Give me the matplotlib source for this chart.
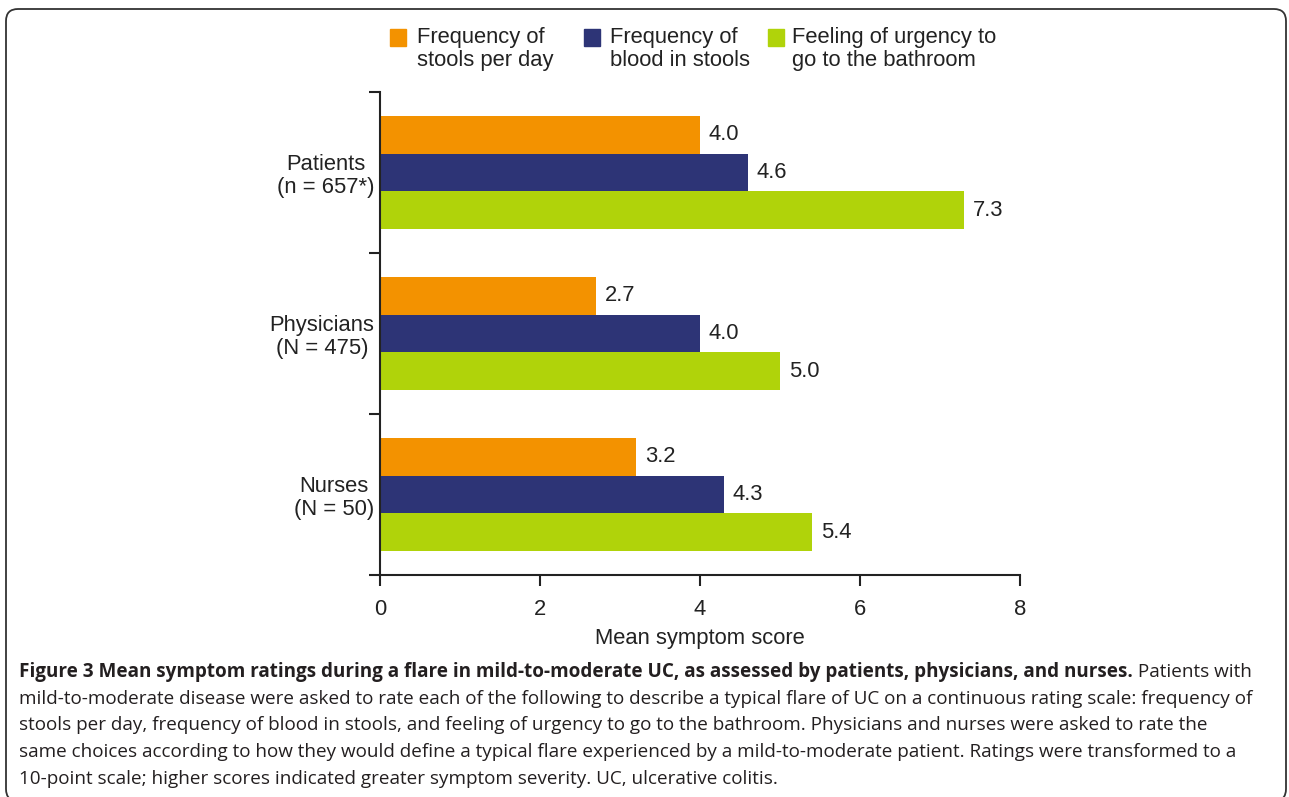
import matplotlib
matplotlib.use("Agg")
import matplotlib.pyplot as plt
import matplotlib.patches as mpatches
from matplotlib.text import Annotation
from matplotlib.transforms import IdentityTransform

# data
groups = ["Patients\n(n = 657*)", "Physicians\n(N = 475)", "Nurses\n(N = 50)"]
series = ["Frequency of\nstools per day", "Frequency of\nblood in stools", "Feeling of urgency to\ngo to the bathroom"]
stools = [4.0, 2.7, 3.2]
blood = [4.6, 4.0, 4.3]
urgency = [7.3, 5.0, 5.4]
xticks = [0, 2, 4, 6, 8]
xlabel = "Mean symptom score"

caption_bold = ("Figure 3 Mean symptom ratings during a flare in mild-to-moderate UC, "
                "as assessed by patients, physicians, and nurses.")
caption_lines = [
    " Patients with",
    "mild-to-moderate disease were asked to rate each of the following to describe a typical flare of UC on a continuous rating scale: frequency of",
    "stools per day, frequency of blood in stools, and feeling of urgency to go to the bathroom. Physicians and nurses were asked to rate the",
    "same choices according to how they would define a typical flare experienced by a mild-to-moderate patient. Ratings were transformed to a",
    "10-point scale; higher scores indicated greater symptom severity. UC, ulcerative colitis.",
]

colors = ["#F39200", "#2D3476", "#B0D30A"]
ink = "#222222"
W, H = 1289, 797
fs = 15.8

plt.rcParams['font.family'] = ['Liberation Sans', 'DejaVu Sans']

fig = plt.figure(figsize=(W / 100, H / 100), dpi=100)
ax = fig.add_axes([380 / W, 222 / H, 640 / W, 483 / H])

centers = [2.5, 1.5, 0.5]
h = 0.236
offs = [h, 0, -h]
for vals, off, c in zip([stools, blood, urgency], offs, colors):
    ys = [y + off for y in centers]
    ax.barh(ys, vals, height=h, color=c, edgecolor="none")
    for y, v in zip(ys, vals):
        ax.text(v + 0.11, y, "%.1f" % v, va="center", ha="left", fontsize=fs, color=ink)

ax.set_xlim(0, 8)
ax.set_ylim(0, 3)
ax.set_xticks(xticks)
ax.set_xticklabels([str(t) for t in xticks])
ax.set_xlabel(xlabel, fontsize=fs, color=ink, labelpad=6)
ax.set_yticks(centers)
ax.set_yticklabels(groups, multialignment="center", linespacing=1.15)
ax.set_yticks([0, 1, 2, 3], minor=True)
ax.tick_params(axis="y", which="major", length=0, pad=4, labelsize=fs, labelcolor=ink)
ax.tick_params(axis="y", which="minor", length=8, width=1.5, color=ink)
ax.tick_params(axis="x", length=8, width=1.5, color=ink, pad=9, labelsize=fs, labelcolor=ink)
for s in ["top", "right"]:
    ax.spines[s].set_visible(False)
for s in ["left", "bottom"]:
    ax.spines[s].set_linewidth(1.5)
    ax.spines[s].set_color(ink)

# legend drawn by hand
leg_sq = [390, 584, 768]
leg_tx = [417, 610, 792]
for c, sx, tx, lab in zip(colors, leg_sq, leg_tx, series):
    fig.patches.append(mpatches.Rectangle((sx / W, 1 - 46 / H), 16 / W, 17 / H,
                                          transform=fig.transFigure, color=c))
    fig.text(tx / W, 1 - 49 / H, lab, va="center", ha="left", fontsize=fs,
             color=ink, linespacing=1.1)

# rounded frame
frame = mpatches.FancyBboxPatch((6, -4), 1280, H - 8 + 4 - 1,
                                boxstyle="round,pad=0,rounding_size=12",
                                transform=IdentityTransform(), fill=False,
                                edgecolor="#333333", linewidth=1.3)
fig.patches.append(frame)

# caption
cap_font = ['Open Sans', 'DejaVu Sans']
cfs = 13.6
line_y = [672, 699, 725, 752, 779]
t0 = fig.text(19 / W, 1 - line_y[0] / H, caption_bold, fontweight="bold", fontsize=cfs,
              family=cap_font, va="center", ha="left", color="#231F20")
fig.add_artist(Annotation(caption_lines[0], xy=(1, 0.5), xycoords=t0,
                          va="center", ha="left", fontsize=cfs,
                          family=cap_font, color="#231F20"))
for txt, y in zip(caption_lines[1:], line_y[1:]):
    fig.text(19 / W, 1 - y / H, txt, fontsize=cfs, family=cap_font, va="center",
             ha="left", color="#231F20")

fig.savefig("out.png", dpi=100)
